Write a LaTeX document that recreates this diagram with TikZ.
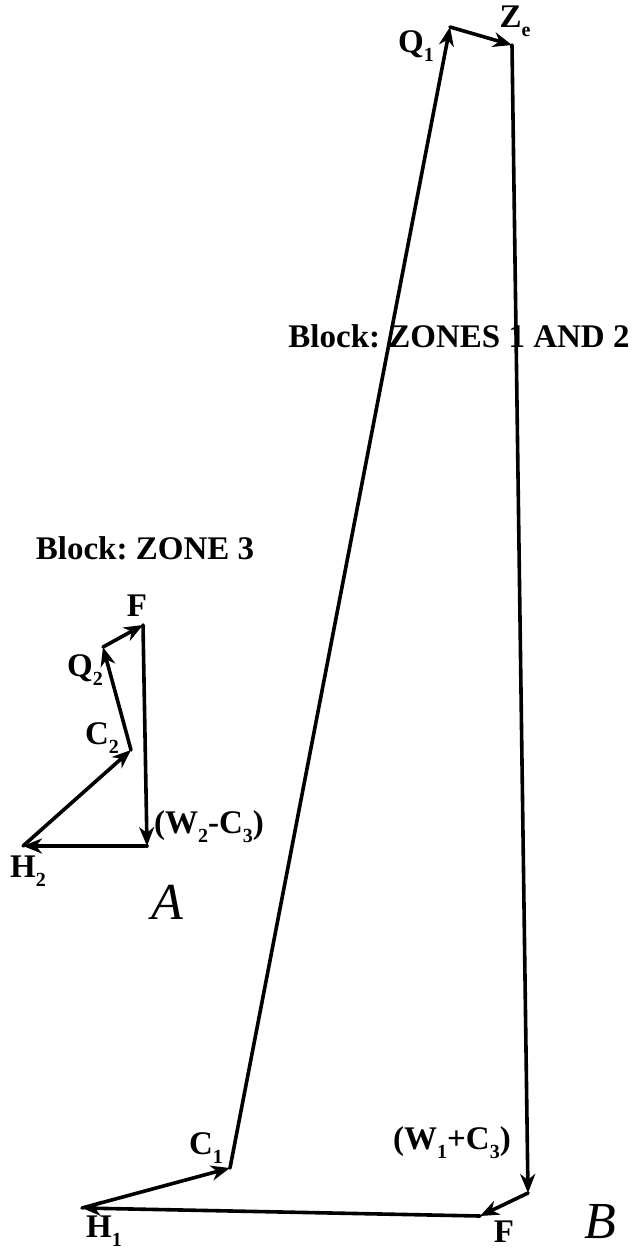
\documentclass[tikz,border=0pt]{standalone}
\usepackage{fontspec}
\setmainfont{Liberation Serif}
\usetikzlibrary{arrows.meta}
\newcommand{\mysub}[1]{\raisebox{-0.28em}{\fontsize{20pt}{20pt}\selectfont #1}}
\frenchspacing
\begin{document}
\begin{tikzpicture}[x=1pt,y=-1pt,
  vec/.style={line width=3.6pt, -{Stealth[length=19pt,width=15pt,inset=6pt]}, line join=round, line cap=round},
  lbl/.style={font=\fontsize{33pt}{33pt}\selectfont\bfseries, inner sep=0pt},
  big/.style={font=\fontsize{52pt}{52pt}\selectfont\itshape, inner sep=0pt}]
\useasboundingbox (0,0) rectangle (636,1251);

% Diagram A
\coordinate (H2) at (23,846);
\coordinate (C2) at (131,750);
\coordinate (Q2) at (103,647);
\coordinate (F2) at (143,625);
\coordinate (W2) at (147,846);
\draw[vec] (H2) -- (C2);
\draw[vec] (C2) -- (Q2);
\draw[vec] (Q2) -- (F2);
\draw[vec] (F2) -- (W2);
\draw[vec] (W2) -- (H2);

\node[lbl] (t3) at (145,548) {Block: ZONE 3};
\node[lbl] (lF2) at (137,606) {F};
\node[lbl] (lQ2) at (85,670) {Q\mysub{2}};
\node[lbl] (lC2) at (102,738) {C\mysub{2}};
\node[lbl] (lW2) at (209,827) {(W\mysub{2}-C\mysub{3})};
\node[lbl] (lH2) at (28,871) {H\mysub{2}};
\node[big] (lA) at (167,902) {A};

% Diagram B
\coordinate (H1) at (82,1208);
\coordinate (C1) at (230,1168);
\coordinate (Q1) at (450,27);
\coordinate (Ze) at (512,45);
\coordinate (W1) at (528,1193);
\coordinate (F1) at (480,1216);
\draw[vec] (H1) -- (C1);
\draw[vec] (C1) -- (Q1);
\draw[vec] (Q1) -- (Ze);
\draw[vec] (Ze) -- (W1);
\draw[vec] (W1) -- (F1);
\draw[vec] (F1) -- (H1);

\node[lbl] (t12) at (459,336) {Block: ZONES 1 AND 2};
\node[lbl] (lQ1) at (416,46) {Q\mysub{1}};
\node[lbl] (lZe) at (515,21) {Z\mysub{e}};
\node[lbl] (lC1) at (206,1148) {C\mysub{1}};
\node[lbl] (lW1) at (452,1143) {(W\mysub{1}+C\mysub{3})};
\node[lbl] (lF1) at (504,1232) {F};
\node[lbl] (lH1) at (104,1231) {H\mysub{1}};
\node[big] (lB) at (600,1222) {B};
\end{tikzpicture}
\end{document}
